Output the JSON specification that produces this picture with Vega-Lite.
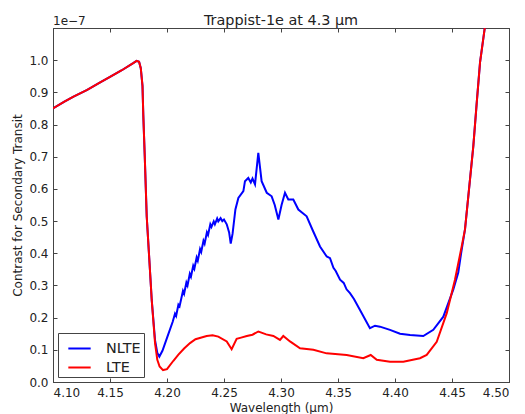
{
  "$schema": "https://vega.github.io/schema/vega-lite/v6.json",
  "width": 456,
  "height": 354,
  "autosize": {"type": "none"},
  "padding": {"left": 53, "top": 28, "right": 16, "bottom": 32},
  "title": {"text": "Trappist-1e at 4.3 μm", "font": "DejaVu Sans", "fontSize": 14.4, "fontWeight": "normal", "color": "#222", "anchor": "middle", "baseline": "alphabetic", "offset": 6, "dy": 30},
  "config": {
    "font": "DejaVu Sans",
    "view": {"stroke": "#444"},
    "axis": {"domainColor": "#444", "tickColor": "#444", "tickSize": -4, "labelPadding": 9, "labelFont": "DejaVu Sans", "labelFontSize": 12, "labelColor": "#222", "titleFont": "DejaVu Sans", "titleFontSize": 12, "titleFontWeight": "normal", "titleColor": "#222", "grid": false}
  },
  "data": {"values": [
    {"series": "LTE", "wavelength": 4.100, "contrast": 0.850},
    {"series": "LTE", "wavelength": 4.110, "contrast": 0.871},
    {"series": "LTE", "wavelength": 4.118, "contrast": 0.887},
    {"series": "LTE", "wavelength": 4.130, "contrast": 0.908},
    {"series": "LTE", "wavelength": 4.141, "contrast": 0.930},
    {"series": "LTE", "wavelength": 4.150, "contrast": 0.948},
    {"series": "LTE", "wavelength": 4.160, "contrast": 0.968},
    {"series": "LTE", "wavelength": 4.170, "contrast": 0.990},
    {"series": "LTE", "wavelength": 4.1734, "contrast": 0.998},
    {"series": "LTE", "wavelength": 4.1755, "contrast": 0.995},
    {"series": "LTE", "wavelength": 4.177, "contrast": 0.975},
    {"series": "LTE", "wavelength": 4.1785, "contrast": 0.920},
    {"series": "LTE", "wavelength": 4.1792, "contrast": 0.830},
    {"series": "LTE", "wavelength": 4.1805, "contrast": 0.700},
    {"series": "LTE", "wavelength": 4.1822, "contrast": 0.515},
    {"series": "LTE", "wavelength": 4.1845, "contrast": 0.380},
    {"series": "LTE", "wavelength": 4.1866, "contrast": 0.255},
    {"series": "LTE", "wavelength": 4.1895, "contrast": 0.121},
    {"series": "LTE", "wavelength": 4.1915, "contrast": 0.069},
    {"series": "LTE", "wavelength": 4.1935, "contrast": 0.048},
    {"series": "LTE", "wavelength": 4.1965, "contrast": 0.037},
    {"series": "LTE", "wavelength": 4.200, "contrast": 0.040},
    {"series": "LTE", "wavelength": 4.2056, "contrast": 0.066},
    {"series": "LTE", "wavelength": 4.210, "contrast": 0.085},
    {"series": "LTE", "wavelength": 4.215, "contrast": 0.104},
    {"series": "LTE", "wavelength": 4.2202, "contrast": 0.121},
    {"series": "LTE", "wavelength": 4.225, "contrast": 0.133},
    {"series": "LTE", "wavelength": 4.2348, "contrast": 0.143},
    {"series": "LTE", "wavelength": 4.240, "contrast": 0.145},
    {"series": "LTE", "wavelength": 4.245, "contrast": 0.141},
    {"series": "LTE", "wavelength": 4.2524, "contrast": 0.126},
    {"series": "LTE", "wavelength": 4.2567, "contrast": 0.102},
    {"series": "LTE", "wavelength": 4.2611, "contrast": 0.134},
    {"series": "LTE", "wavelength": 4.265, "contrast": 0.138},
    {"series": "LTE", "wavelength": 4.270, "contrast": 0.143},
    {"series": "LTE", "wavelength": 4.275, "contrast": 0.147},
    {"series": "LTE", "wavelength": 4.2801, "contrast": 0.157},
    {"series": "LTE", "wavelength": 4.2816, "contrast": 0.155},
    {"series": "LTE", "wavelength": 4.287, "contrast": 0.148},
    {"series": "LTE", "wavelength": 4.2933, "contrast": 0.143},
    {"series": "LTE", "wavelength": 4.2991, "contrast": 0.131},
    {"series": "LTE", "wavelength": 4.302, "contrast": 0.143},
    {"series": "LTE", "wavelength": 4.3079, "contrast": 0.126},
    {"series": "LTE", "wavelength": 4.3167, "contrast": 0.105},
    {"series": "LTE", "wavelength": 4.3284, "contrast": 0.100},
    {"series": "LTE", "wavelength": 4.340, "contrast": 0.089},
    {"series": "LTE", "wavelength": 4.3576, "contrast": 0.084},
    {"series": "LTE", "wavelength": 4.3722, "contrast": 0.074},
    {"series": "LTE", "wavelength": 4.3787, "contrast": 0.084},
    {"series": "LTE", "wavelength": 4.384, "contrast": 0.069},
    {"series": "LTE", "wavelength": 4.3956, "contrast": 0.063},
    {"series": "LTE", "wavelength": 4.4073, "contrast": 0.063},
    {"series": "LTE", "wavelength": 4.4219, "contrast": 0.074},
    {"series": "LTE", "wavelength": 4.4278, "contrast": 0.084},
    {"series": "LTE", "wavelength": 4.4366, "contrast": 0.125},
    {"series": "LTE", "wavelength": 4.4454, "contrast": 0.214},
    {"series": "LTE", "wavelength": 4.4526, "contrast": 0.318},
    {"series": "LTE", "wavelength": 4.4585, "contrast": 0.421},
    {"series": "LTE", "wavelength": 4.4614, "contrast": 0.474},
    {"series": "LTE", "wavelength": 4.4643, "contrast": 0.577},
    {"series": "LTE", "wavelength": 4.4687, "contrast": 0.733},
    {"series": "LTE", "wavelength": 4.4717, "contrast": 0.868},
    {"series": "LTE", "wavelength": 4.4746, "contrast": 0.993},
    {"series": "LTE", "wavelength": 4.479, "contrast": 1.107},
    {"series": "LTE", "wavelength": 4.481, "contrast": 1.160},
    {"series": "NLTE", "wavelength": 4.100, "contrast": 0.850},
    {"series": "NLTE", "wavelength": 4.110, "contrast": 0.871},
    {"series": "NLTE", "wavelength": 4.118, "contrast": 0.887},
    {"series": "NLTE", "wavelength": 4.130, "contrast": 0.908},
    {"series": "NLTE", "wavelength": 4.141, "contrast": 0.930},
    {"series": "NLTE", "wavelength": 4.150, "contrast": 0.948},
    {"series": "NLTE", "wavelength": 4.160, "contrast": 0.968},
    {"series": "NLTE", "wavelength": 4.170, "contrast": 0.990},
    {"series": "NLTE", "wavelength": 4.1734, "contrast": 0.998},
    {"series": "NLTE", "wavelength": 4.1755, "contrast": 0.995},
    {"series": "NLTE", "wavelength": 4.177, "contrast": 0.975},
    {"series": "NLTE", "wavelength": 4.1785, "contrast": 0.920},
    {"series": "NLTE", "wavelength": 4.1792, "contrast": 0.830},
    {"series": "NLTE", "wavelength": 4.1805, "contrast": 0.700},
    {"series": "NLTE", "wavelength": 4.1822, "contrast": 0.515},
    {"series": "NLTE", "wavelength": 4.1845, "contrast": 0.380},
    {"series": "NLTE", "wavelength": 4.1866, "contrast": 0.255},
    {"series": "NLTE", "wavelength": 4.1895, "contrast": 0.130},
    {"series": "NLTE", "wavelength": 4.1915, "contrast": 0.090},
    {"series": "NLTE", "wavelength": 4.1933, "contrast": 0.079},
    {"series": "NLTE", "wavelength": 4.196, "contrast": 0.097},
    {"series": "NLTE", "wavelength": 4.200, "contrast": 0.137},
    {"series": "NLTE", "wavelength": 4.205, "contrast": 0.187},
    {"series": "NLTE", "wavelength": 4.207, "contrast": 0.212},
    {"series": "NLTE", "wavelength": 4.208, "contrast": 0.205},
    {"series": "NLTE", "wavelength": 4.210, "contrast": 0.240},
    {"series": "NLTE", "wavelength": 4.211, "contrast": 0.235},
    {"series": "NLTE", "wavelength": 4.214, "contrast": 0.283},
    {"series": "NLTE", "wavelength": 4.215, "contrast": 0.274},
    {"series": "NLTE", "wavelength": 4.217, "contrast": 0.309},
    {"series": "NLTE", "wavelength": 4.218, "contrast": 0.300},
    {"series": "NLTE", "wavelength": 4.220, "contrast": 0.336},
    {"series": "NLTE", "wavelength": 4.221, "contrast": 0.327},
    {"series": "NLTE", "wavelength": 4.223, "contrast": 0.361},
    {"series": "NLTE", "wavelength": 4.224, "contrast": 0.352},
    {"series": "NLTE", "wavelength": 4.226, "contrast": 0.387},
    {"series": "NLTE", "wavelength": 4.227, "contrast": 0.377},
    {"series": "NLTE", "wavelength": 4.229, "contrast": 0.413},
    {"series": "NLTE", "wavelength": 4.230, "contrast": 0.404},
    {"series": "NLTE", "wavelength": 4.232, "contrast": 0.439},
    {"series": "NLTE", "wavelength": 4.233, "contrast": 0.430},
    {"series": "NLTE", "wavelength": 4.235, "contrast": 0.465},
    {"series": "NLTE", "wavelength": 4.236, "contrast": 0.457},
    {"series": "NLTE", "wavelength": 4.238, "contrast": 0.490},
    {"series": "NLTE", "wavelength": 4.239, "contrast": 0.482},
    {"series": "NLTE", "wavelength": 4.241, "contrast": 0.499},
    {"series": "NLTE", "wavelength": 4.242, "contrast": 0.490},
    {"series": "NLTE", "wavelength": 4.244, "contrast": 0.508},
    {"series": "NLTE", "wavelength": 4.245, "contrast": 0.499},
    {"series": "NLTE", "wavelength": 4.247, "contrast": 0.509},
    {"series": "NLTE", "wavelength": 4.2485, "contrast": 0.500},
    {"series": "NLTE", "wavelength": 4.250, "contrast": 0.505},
    {"series": "NLTE", "wavelength": 4.2524, "contrast": 0.490},
    {"series": "NLTE", "wavelength": 4.2545, "contrast": 0.465},
    {"series": "NLTE", "wavelength": 4.2559, "contrast": 0.430},
    {"series": "NLTE", "wavelength": 4.2575, "contrast": 0.460},
    {"series": "NLTE", "wavelength": 4.260, "contrast": 0.536},
    {"series": "NLTE", "wavelength": 4.2626, "contrast": 0.572},
    {"series": "NLTE", "wavelength": 4.267, "contrast": 0.593},
    {"series": "NLTE", "wavelength": 4.2684, "contrast": 0.624},
    {"series": "NLTE", "wavelength": 4.2713, "contrast": 0.634},
    {"series": "NLTE", "wavelength": 4.2735, "contrast": 0.620},
    {"series": "NLTE", "wavelength": 4.275, "contrast": 0.632},
    {"series": "NLTE", "wavelength": 4.2772, "contrast": 0.614},
    {"series": "NLTE", "wavelength": 4.2801, "contrast": 0.712},
    {"series": "NLTE", "wavelength": 4.283, "contrast": 0.624},
    {"series": "NLTE", "wavelength": 4.2875, "contrast": 0.588},
    {"series": "NLTE", "wavelength": 4.2918, "contrast": 0.577},
    {"series": "NLTE", "wavelength": 4.2945, "contrast": 0.550},
    {"series": "NLTE", "wavelength": 4.2977, "contrast": 0.505},
    {"series": "NLTE", "wavelength": 4.3005, "contrast": 0.550},
    {"series": "NLTE", "wavelength": 4.3035, "contrast": 0.588},
    {"series": "NLTE", "wavelength": 4.3064, "contrast": 0.567},
    {"series": "NLTE", "wavelength": 4.3108, "contrast": 0.567},
    {"series": "NLTE", "wavelength": 4.3152, "contrast": 0.536},
    {"series": "NLTE", "wavelength": 4.3225, "contrast": 0.515},
    {"series": "NLTE", "wavelength": 4.328, "contrast": 0.470},
    {"series": "NLTE", "wavelength": 4.3342, "contrast": 0.421},
    {"series": "NLTE", "wavelength": 4.3401, "contrast": 0.390},
    {"series": "NLTE", "wavelength": 4.343, "contrast": 0.385},
    {"series": "NLTE", "wavelength": 4.346, "contrast": 0.355},
    {"series": "NLTE", "wavelength": 4.348, "contrast": 0.345},
    {"series": "NLTE", "wavelength": 4.3518, "contrast": 0.318},
    {"series": "NLTE", "wavelength": 4.355, "contrast": 0.308},
    {"series": "NLTE", "wavelength": 4.3575, "contrast": 0.288},
    {"series": "NLTE", "wavelength": 4.3605, "contrast": 0.276},
    {"series": "NLTE", "wavelength": 4.364, "contrast": 0.258},
    {"series": "NLTE", "wavelength": 4.3693, "contrast": 0.224},
    {"series": "NLTE", "wavelength": 4.378, "contrast": 0.167},
    {"series": "NLTE", "wavelength": 4.3825, "contrast": 0.175},
    {"series": "NLTE", "wavelength": 4.3868, "contrast": 0.172},
    {"series": "NLTE", "wavelength": 4.3956, "contrast": 0.162},
    {"series": "NLTE", "wavelength": 4.4044, "contrast": 0.150},
    {"series": "NLTE", "wavelength": 4.4132, "contrast": 0.146},
    {"series": "NLTE", "wavelength": 4.4248, "contrast": 0.143},
    {"series": "NLTE", "wavelength": 4.4336, "contrast": 0.162},
    {"series": "NLTE", "wavelength": 4.4424, "contrast": 0.203},
    {"series": "NLTE", "wavelength": 4.4511, "contrast": 0.287},
    {"series": "NLTE", "wavelength": 4.4555, "contrast": 0.340},
    {"series": "NLTE", "wavelength": 4.458, "contrast": 0.400},
    {"series": "NLTE", "wavelength": 4.4614, "contrast": 0.474},
    {"series": "NLTE", "wavelength": 4.4643, "contrast": 0.577},
    {"series": "NLTE", "wavelength": 4.4687, "contrast": 0.733},
    {"series": "NLTE", "wavelength": 4.4717, "contrast": 0.868},
    {"series": "NLTE", "wavelength": 4.4746, "contrast": 0.993},
    {"series": "NLTE", "wavelength": 4.479, "contrast": 1.107},
    {"series": "NLTE", "wavelength": 4.481, "contrast": 1.160}
  ]},
  "layer": [
    {
      "transform": [{"filter": "datum.series === 'NLTE'"}],
      "mark": {"type": "line", "strokeWidth": 2, "clip": true},
      "encoding": {
        "x": {"field": "wavelength", "type": "quantitative", "scale": {"domain": [4.1, 4.5], "nice": false, "zero": false},
              "axis": {"orient": "bottom", "values": [4.1, 4.15, 4.2, 4.25, 4.3, 4.35, 4.4, 4.45, 4.5], "format": ".2f", "title": "Wavelength (μm)", "titlePadding": 4}},
        "y": {"field": "contrast", "type": "quantitative", "scale": {"domain": [0, 1.1], "nice": false, "zero": false},
              "axis": {"orient": "left", "values": [0, 0.1, 0.2, 0.3, 0.4, 0.5, 0.6, 0.7, 0.8, 0.9, 1.0], "format": ".1f", "title": "Contrast for Secondary Transit", "titlePadding": 4}},
        "color": {"field": "series", "type": "nominal", "scale": {"domain": ["NLTE", "LTE"], "range": ["#0000ff", "#ff0000"]},
                  "legend": {"title": null, "orient": "bottom-left", "offset": 5, "strokeColor": "#444", "fillColor": "white", "padding": 3, "symbolType": "stroke", "symbolStrokeWidth": 2, "symbolSize": 500, "symbolOffset": 6, "labelFont": "DejaVu Sans", "labelFontSize": 14.4, "labelColor": "#222", "labelOffset": 14, "rowPadding": 0}}
      }
    },
    {
      "transform": [{"filter": "datum.series === 'LTE'"}],
      "mark": {"type": "line", "strokeWidth": 2, "clip": true},
      "encoding": {
        "x": {"field": "wavelength", "type": "quantitative", "axis": null},
        "y": {"field": "contrast", "type": "quantitative", "axis": null},
        "color": {"field": "series", "type": "nominal"}
      }
    },
    {
      "data": {"values": [{"label": "1e−7"}]},
      "mark": {"type": "text", "align": "left", "baseline": "alphabetic", "dy": -3, "font": "DejaVu Sans", "fontSize": 12, "color": "#222", "clip": false},
      "encoding": {
        "x": {"datum": 4.1, "type": "quantitative", "axis": {"orient": "top", "values": [4.1, 4.15, 4.2, 4.25, 4.3, 4.35, 4.4, 4.45, 4.5], "labels": false, "title": null}},
        "y": {"datum": 1.1, "type": "quantitative", "axis": {"orient": "right", "values": [0, 0.1, 0.2, 0.3, 0.4, 0.5, 0.6, 0.7, 0.8, 0.9, 1.0], "labels": false, "title": null}},
        "text": {"field": "label"}
      }
    }
  ],
  "resolve": {"axis": {"x": "independent", "y": "independent"}}
}
